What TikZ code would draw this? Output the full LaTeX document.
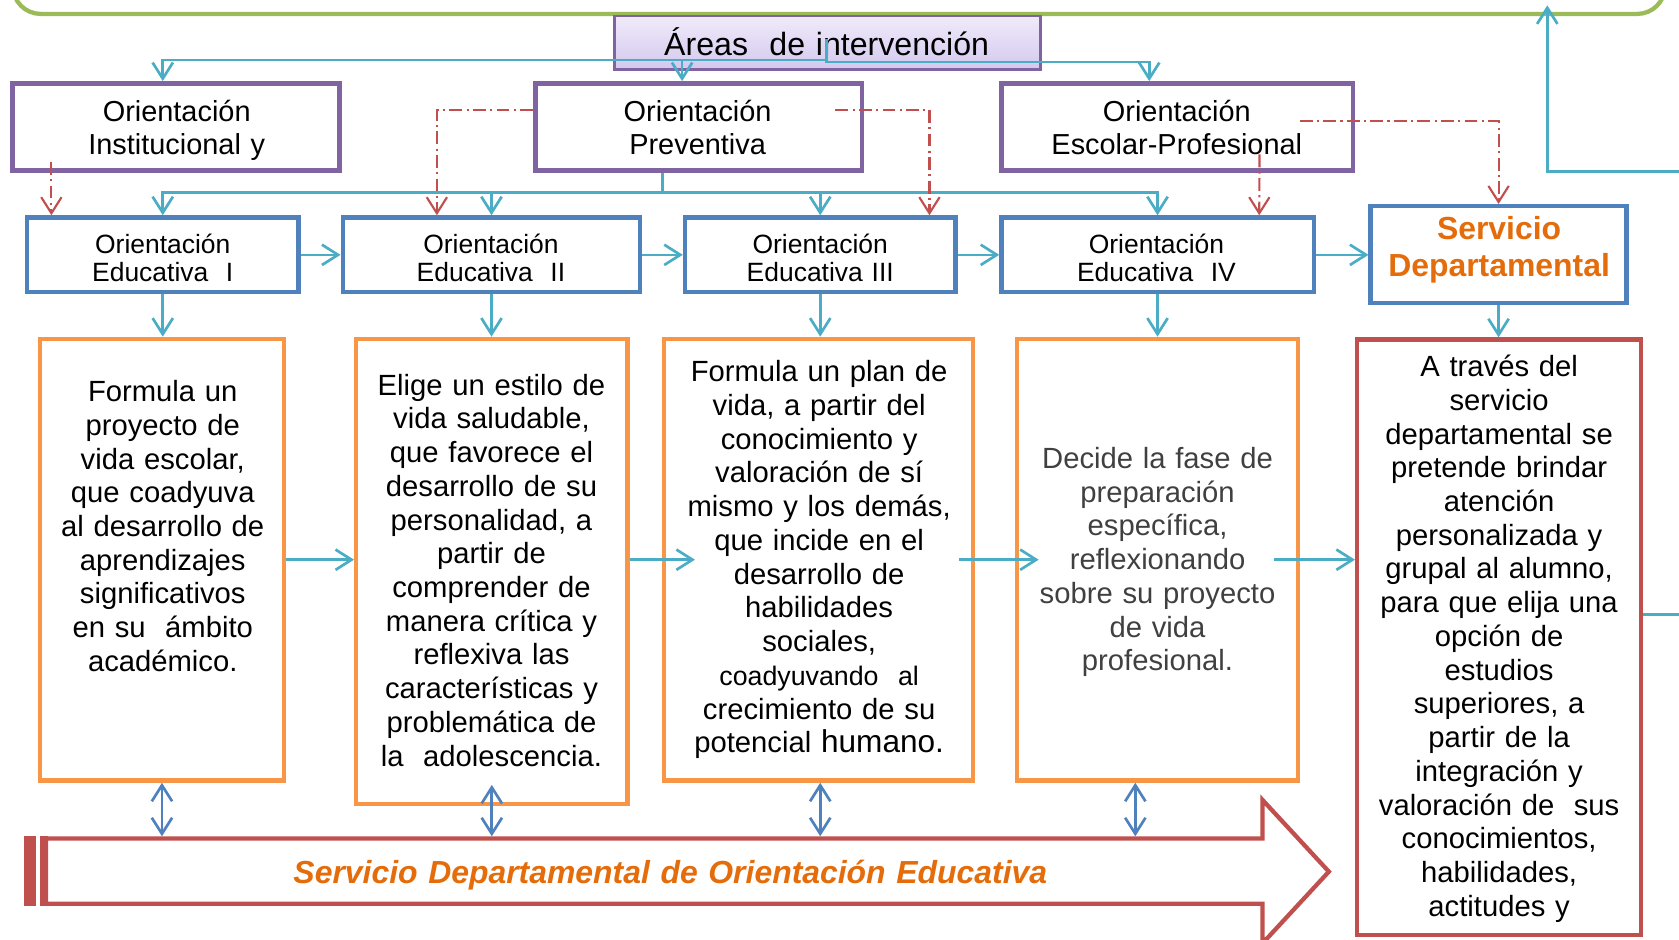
\documentclass[tikz,border=0pt]{standalone}
\usepackage{fontspec}
\setmainfont{Liberation Sans}
\usepackage{tikz}
\usetikzlibrary{arrows.meta}
\definecolor{frameGreen}{RGB}{155,187,89}
\definecolor{oriPurple}{RGB}{128,100,162}
\definecolor{areaTop}{RGB}{240,235,250}
\definecolor{areaBot}{RGB}{212,200,238}
\definecolor{eduBlue}{RGB}{79,129,189}
\definecolor{faseOrange}{RGB}{247,150,70}
\definecolor{servRed}{RGB}{192,80,77}
\definecolor{linkBlue}{RGB}{75,172,198}
\definecolor{titleOrange}{RGB}{228,108,10}
\definecolor{textGray}{RGB}{64,64,64}
\tikzstyle{frame}=[draw=frameGreen, line width=4pt, rounded corners=26pt]
\tikzstyle{area}=[shape=rectangle, draw=oriPurple, line width=2.5pt, top color=areaTop, bottom color=areaBot]
\tikzstyle{ori}=[shape=rectangle, draw=oriPurple, line width=4.5pt]
\tikzstyle{edu}=[shape=rectangle, draw=eduBlue, line width=4pt]
\tikzstyle{fase}=[shape=rectangle, draw=faseOrange, line width=4pt]
\tikzstyle{serv}=[shape=rectangle, draw=servRed, line width=4pt]
\tikzstyle{txt}=[anchor=base, align=center, text width=300pt, inner sep=0pt, font=\fontsize{27.3}{31.5}\selectfont]
\tikzstyle{small}=[style=txt, font=\fontsize{24.7}{26.5}\selectfont]
\tikzstyle{link}=[->, draw=linkBlue, line width=2.5pt]
\tikzstyle{both}=[<->, draw=eduBlue, line width=2.5pt]
\tikzstyle{dd}=[->, draw=servRed, line width=2pt, dash pattern=on 12pt off 4pt on 2pt off 4pt]

\begin{document}
\begin{tikzpicture}[x=1pt, y=-1pt, >={Straight Barb[length=15pt,width=19pt]}]
    \useasboundingbox (0,0) rectangle (1568,877);
    \draw [style=frame] (12,-80) rectangle (1555,13);

    % boxes
    \node [style=area, minimum width=398pt, minimum height=50pt] (0) at (773,40) {};
    \node [style=ori, minimum width=305pt, minimum height=81pt] (1) at (164.5,118.5) {};
    \node [style=ori, minimum width=305pt, minimum height=81pt] (2) at (652.5,118.5) {};
    \node [style=ori, minimum width=328.5pt, minimum height=81pt] (3) at (1099.25,118.5) {};
    \node [style=edu, minimum width=253.5pt, minimum height=70pt] (6) at (152,238) {};
    \node [style=edu, minimum width=278pt, minimum height=70pt] (7) at (459,238) {};
    \node [style=edu, minimum width=252.7pt, minimum height=70pt] (8) at (766,238) {};
    \node [style=edu, minimum width=291.6pt, minimum height=70pt] (9) at (1081,238) {};
    \node [style=edu, minimum width=239pt, minimum height=90.5pt] (10) at (1399.5,237.75) {};
    \node [style=fase, minimum width=227.5pt, minimum height=412.6pt] (11) at (151.25,522.7) {};
    \node [style=fase, minimum width=253.3pt, minimum height=434.6pt] (12) at (459.3,533.7) {};
    \node [style=fase, minimum width=288.5pt, minimum height=412.6pt] (13) at (764.25,522.7) {};
    \node [style=fase, minimum width=262.5pt, minimum height=412.6pt] (14) at (1081.25,522.7) {};
    \node [style=serv, minimum width=265.3pt, minimum height=556pt] (15) at (1400,595) {};

    % texts
    \node [style=txt, text width=500pt, font=\fontsize{30}{34}\selectfont] (t0) at (772,51.5) {Áreas\ \ de intervención};
    \node [style=txt, font=\fontsize{27}{31}\selectfont] (t1) at (165,113.6) {Orientación\\Institucional y};
    \node [style=txt, font=\fontsize{27}{31}\selectfont] (t2) at (651.5,113.6) {Orientación\\Preventiva};
    \node [style=txt, font=\fontsize{27}{31}\selectfont] (t3) at (1099,113.6) {Orientación\\Escolar-Profesional};
    \node [style=small] (t6) at (152,236.6) {Orientación\\Educativa\ \ I};
    \node [style=small] (t7) at (458.5,236.6) {Orientación\\Educativa\ \ II};
    \node [style=small] (t8) at (766,236.6) {Orientación\\Educativa III};
    \node [style=small] (t9) at (1080,236.6) {Orientación\\Educativa\ \ IV};
    \node [style=txt, text=titleOrange, font=\bfseries\fontsize{29.8}{34.4}\selectfont] (t10) at (1400,224) {Servicio\\Departamental};
    \node [style=txt] (t11) at (152,375) {Formula un\\proyecto de\\vida escolar,\\que coadyuva\\al desarrollo de\\aprendizajes\\significativos\\en su\ \ ámbito\\académico.};
    \node [style=txt] (t12) at (459,369) {Elige un estilo de\\vida saludable,\\que favorece el\\desarrollo de su\\personalidad, a\\partir de\\comprender de\\manera crítica y\\reflexiva las\\características y\\problemática de\\la\ \ adolescencia.};
    \node [style=txt] (t13) at (765,356.5) {Formula un plan de\\vida, a partir del\\conocimiento y\\valoración de sí\\mismo y los demás,\\que incide en el\\desarrollo de\\habilidades\\sociales,\\{\fontsize{25}{31.5}\selectfont coadyuvando\ \ al}\\crecimiento de su\\potencial {\fontsize{29.5}{31.5}\selectfont humano.}};
    \node [style=txt, text=textGray] (t14) at (1081,437.4) {Decide la fase de\\preparación\\específica,\\reflexionando\\sobre su proyecto\\de vida\\profesional.};
    \node [style=txt] (t15) at (1400,351.7) {A través del\\servicio\\departamental se\\pretende brindar\\atención\\personalizada y\\grupal al alumno,\\para que elija una\\opción de\\estudios\\superiores, a\\partir de la\\integración y\\valoración de\ \ sus\\conocimientos,\\habilidades,\\actitudes y};

    % bottom arrow
    \fill [servRed] (22,781) rectangle (34,846);
    \fill [servRed] (37.5,781) rectangle (45,846);
    \draw [draw=servRed, line width=4pt, line join=miter] (43,783) -- (1179,783) -- (1179,747) -- (1241,814) -- (1179,881) -- (1179,844) -- (43,844) -- cycle;
    \node [style=txt, text width=900pt, text=titleOrange, font=\bfseries\itshape\fontsize{29.8}{34}\selectfont] (16) at (626,825) {Servicio Departamental de Orientación Educativa};
    \coordinate (bt) at (0,781);

    % blue connectors
    \coordinate (a0) at (772,36);
    \coordinate (a1) at (772,56);
    \coordinate (a2) at (772,58);
    \draw [style=link] (a0) -- (a1) -| ([xshift=-12.5pt]1.north);
    \draw [style=link] (a1) -| ([xshift=-15.5pt]2.north);
    \draw [style=link] (a0) -- (a2) -| ([xshift=-26pt]3.north);
    \coordinate (p0) at (619,180);
    \draw [style=link] ([xshift=-33.5pt]2.south) -- (p0) -| (6.north);
    \draw [style=link] (p0) -| (7.north);
    \draw [style=link] (p0) -| (8.north);
    \draw [style=link] (p0) -| (9.north);
    \draw [style=link] (6.east) -- (6.east -| 7.west);
    \draw [style=link] (7.east) -- (7.east -| 8.west);
    \draw [style=link] (8.east) -- (8.east -| 9.west);
    \draw [style=link] (9.east) -- (9.east -| 10.west);
    \draw [style=link] (6.south) -- (6.south |- 11.north);
    \draw [style=link] (7.south) -- (7.south |- 12.north);
    \draw [style=link] (8.south) -- (8.south |- 13.north);
    \draw [style=link] (9.south) -- (9.south |- 14.north);
    \draw [style=link] (10.south) -- (10.south |- 15.north);
    \draw [style=link] (11.east) -- (11.east -| 12.west);
    \draw [style=link] (12.east |- 13.west) -- ([xshift=31pt]13.west);
    \draw [style=link] ([xshift=-15pt]13.east) -- ([xshift=22pt]14.west);
    \draw [style=link] ([xshift=-25pt]14.east) -- (14.east -| 15.west);
    \coordinate (c0) at (1568,160);
    \coordinate (c1) at (1445,5);
    \coordinate (c2) at (1568,574);
    \draw [style=link] (c0) -| (c1);
    \draw [style=link, -] (15.east |- c2) -- (c2);

    % red dash-dot connectors
    \draw [style=dd] ([xshift=-116.5pt,yshift=10pt]1.south) -- ([xshift=-104pt]6.north);
    \draw [style=dd] ([yshift=16pt]2.west) -| ([xshift=-51pt]7.north);
    \draw [style=dd] ([xshift=-27pt,yshift=16pt]2.east) -| ([xshift=102pt]8.north);
    \draw [style=dd] ([xshift=77pt,yshift=17pt]3.south) -- ([xshift=95pt]9.north);
    \draw [style=dd] ([xshift=-52pt,yshift=5.5pt]3.east) -| (10.north);

    % double arrows
    \draw [style=both] (11.south) -- (11.south |- bt);
    \draw [style=both] ([yshift=20pt]12.south) -- (12.south |- bt);
    \draw [style=both] ([xshift=1.75pt]13.south) -- ([xshift=1.75pt]13.south |- bt);
    \draw [style=both] ([xshift=-21pt]14.south) -- ([xshift=-21pt]14.south |- bt);
\end{tikzpicture}
\end{document}
